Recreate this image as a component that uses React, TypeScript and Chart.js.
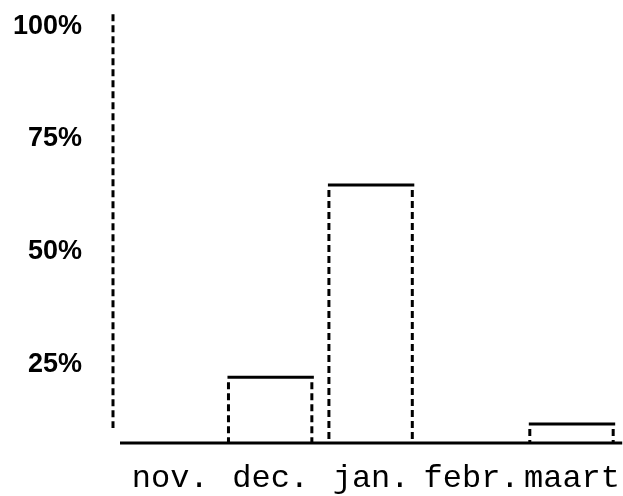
import React, { useEffect, useRef } from "react";
import { Chart, registerables } from "chart.js";

Chart.register(...registerables);

const months = ["nov.", "dec.", "jan.", "febr.", "maart"];
const shares = [0, 22.1, 64.8, 0, 11.7];
const yTicks = [25, 50, 75, 100];
const yMin = 7.5;
const yMax = 102.7;

const typewriterPlugin = {
  id: "typewriter",
  afterDatasetsDraw(chart: any) {
    const { ctx, chartArea, scales } = chart;
    const yScale = scales.y;
    ctx.save();
    ctx.strokeStyle = "#000";
    // x baseline (solid)
    ctx.lineWidth = 3;
    ctx.setLineDash([]);
    ctx.beginPath();
    ctx.moveTo(chartArea.left, chartArea.bottom);
    ctx.lineTo(chartArea.right, chartArea.bottom);
    ctx.stroke();
    // y axis (dashed), stops above baseline
    ctx.setLineDash([7, 4]);
    ctx.beginPath();
    ctx.moveTo(chartArea.left - 7, yScale.top);
    ctx.lineTo(chartArea.left - 7, yScale.bottom - 15);
    ctx.stroke();
    // bars: solid top, dashed sides
    const meta = chart.getDatasetMeta(0);
    meta.data.forEach((el: any, i: number) => {
      const v = shares[i];
      if (v == null || v <= yMin) return;
      const { x, y, width } = el.getProps(["x", "y", "width"], true);
      const base = yScale.getPixelForValue(yMin);
      const l = x - width / 2;
      const r = x + width / 2;
      ctx.setLineDash([]);
      ctx.lineWidth = 3;
      ctx.beginPath();
      ctx.moveTo(l, y);
      ctx.lineTo(r, y);
      ctx.stroke();
      ctx.setLineDash([7, 4]);
      ctx.beginPath();
      ctx.moveTo(l + 1, y + 5);
      ctx.lineTo(l + 1, base);
      ctx.moveTo(r - 2, y + 5);
      ctx.lineTo(r - 2, base);
      ctx.stroke();
    });
    ctx.restore();
  },
};

export default function App() {
  const ref = useRef<HTMLCanvasElement>(null);
  useEffect(() => {
    if (!ref.current) return;
    const chart = new Chart(ref.current, {
      type: "bar",
      data: {
        labels: months,
        datasets: [
          {
            data: shares,
            base: yMin,
            backgroundColor: "rgba(0,0,0,0)",
            borderWidth: 0,
            barPercentage: 0.86,
            categoryPercentage: 1,
          },
        ],
      },
      options: {
        responsive: false,
        animation: false,
        layout: { padding: { top: -17, right: -2, left: 0, bottom: 0 } },
        plugins: { legend: { display: false }, tooltip: { enabled: false } },
        scales: {
          x: {
            grid: { display: false },
            border: { display: false },
            ticks: {
              color: "#000",
              font: { family: "Liberation Mono", size: 32 },
              padding: 8,
              maxRotation: 0,
              autoSkip: false,
            },
            afterFit(scale: any) {
              scale.height = 53;
            },
          },
          y: {
            min: yMin,
            max: yMax,
            grid: { display: false },
            border: { display: false },
            afterBuildTicks(scale: any) {
              scale.ticks = yTicks.map((v) => ({ value: v }));
            },
            ticks: {
              color: "#000",
              font: { family: "Liberation Sans", size: 27, weight: "bold" },
              padding: 30,
              callback: (v: any) => `${v}%`,
            },
            afterFit(scale: any) {
              scale.width = 120;
            },
          },
        },
      },
      plugins: [typewriterPlugin],
    });
    return () => chart.destroy();
  }, []);
  return (
    <div style={{ position: "fixed", left: 0, top: 0, width: 623, height: 496, background: "#fff", overflow: "hidden" }}>
      <canvas ref={ref} width={628} height={528} style={{ position: "absolute", left: 0, top: -32 }} />
    </div>
  );
}
